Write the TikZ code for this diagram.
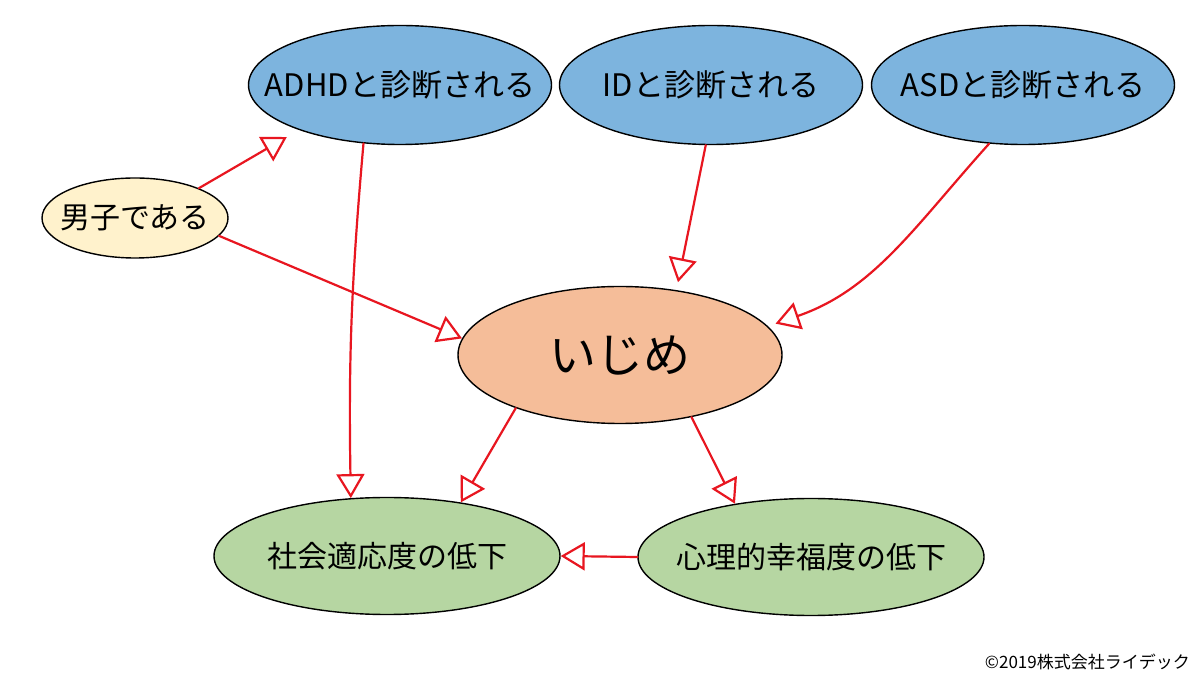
\documentclass[tikz,border=0pt]{standalone}
\usepackage{fontspec}
\setmainfont{Noto Sans CJK JP}
\usetikzlibrary{arrows.meta,shapes.geometric}
\definecolor{eblue}{RGB}{125,180,222}
\definecolor{eorange}{RGB}{245,189,153}
\definecolor{eyellow}{RGB}{255,242,204}
\definecolor{egreen}{RGB}{182,214,162}
\definecolor{ared}{RGB}{232,22,32}
\newcommand{\zw}[1]{\makebox[0pt]{#1}}
\tikzset{
  ell/.style={ellipse,draw=black,line width=1.4pt,inner sep=0pt,font=\fontsize{30}{34}\selectfont},
  blueell/.style={ell,fill=eblue,minimum width=303pt,minimum height=119pt,font=\fontsize{31}{34}\selectfont},
  greenell/.style={ell,fill=egreen,minimum width=346pt,minimum height=117pt},
  arr/.style={draw=ared,line width=2.2pt,line cap=round,line join=round,
    -{Triangle[open,length=24pt,width=28pt,line width=2.2pt]}}
}
\begin{document}
\begin{tikzpicture}[x=1pt,y=1pt]
\fill[white] (0,0) rectangle (1200,675);
\useasboundingbox (0,0) rectangle (1200,675);
\node[blueell] (adhd) at (400,590) {\zw{ADHDと診断される}};
\node[blueell] (id) at (711,590) {\zw{IDと診断される}};
\node[blueell] (asd) at (1023,590) {\zw{ASDと診断される}};
\node[ell,fill=eyellow,minimum width=186pt,minimum height=80pt] (dan) at (135,457) {\zw{男子である}};
\node[ell,fill=eorange,minimum width=324pt,minimum height=137pt,font=\fontsize{47}{52}\selectfont] (ijime) at (620,320) {\zw{いじめ}};
\node[greenell] (shakai) at (387,119) {\zw{社会適応度の低下}};
\node[greenell] (shinri) at (811,118) {\zw{心理的幸福度の低下}};
\node[anchor=south east,inner sep=0pt,font=\fontsize{17}{20}\selectfont] (copy) at (1190,5) {©2019株式会社ライデック};
\draw[arr,shorten >=14pt] (dan.25) -- (adhd.204);
\draw[arr] (dan.-12) -- (ijime.174);
\draw[arr] (adhd.238) to[bend right=3] (shakai.122);
\draw[arr,shorten >=8pt] (id.265) -- (ijime.49);
\draw[arr,shorten >=8pt] (asd.240) to[out=228,in=19] (ijime.11);
\draw[arr] (ijime.207) -- (shakai.36);
\draw[arr] (ijime.-41) -- (shinri.145);
\draw[arr] (shinri.west) -- (shakai.east);
\end{tikzpicture}
\end{document}
